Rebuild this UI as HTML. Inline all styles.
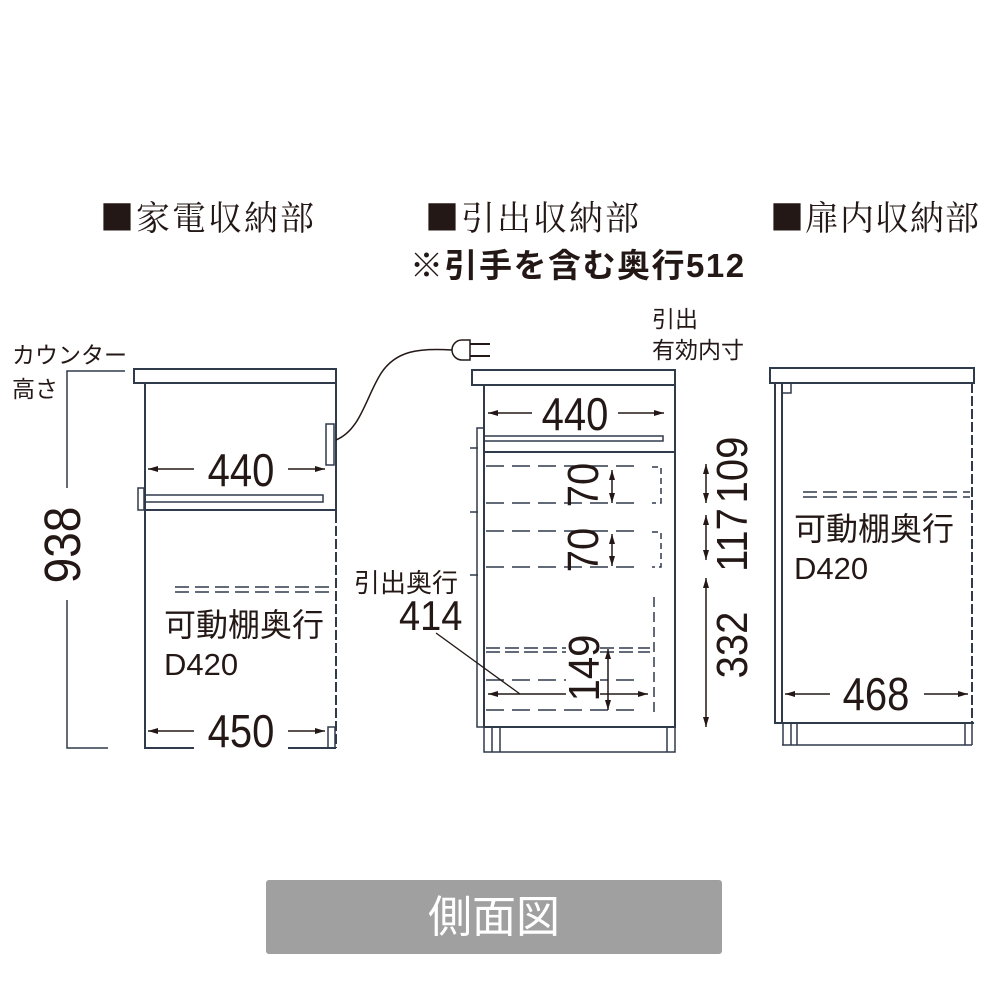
<!DOCTYPE html>
<html><head><meta charset="utf-8"><style>
html,body{margin:0;padding:0;background:#fff;}
svg{display:block}
text{font-family:"Liberation Sans","Noto Sans CJK JP",sans-serif;fill:#231815}
.s{font-family:"Noto Serif CJK SC","Liberation Serif",serif}
</style></head><body>
<svg width="1000" height="1000" viewBox="0 0 1000 1000" xmlns="http://www.w3.org/2000/svg">
<defs>
<marker id="a" viewBox="0 0 10 6" refX="10" refY="3" markerWidth="10" markerHeight="6" orient="auto-start-reverse" markerUnits="userSpaceOnUse"><path d="M0,0L10,3L0,6z" fill="#231815"/></marker>
</defs>
<text x="100" y="230" font-size="34" letter-spacing="2" class="s">■家電収納部</text>
<text x="425" y="230" font-size="34" letter-spacing="2" class="s">■引出収納部</text>
<text x="770" y="230" font-size="34" letter-spacing="1" class="s">■扉内収納部</text>
<text x="410" y="277" font-size="33" font-weight="bold" letter-spacing="1.5">※引手を含む奥行512</text>

<!-- LEFT cabinet -->
<g fill="none" stroke="#2f3a4a" stroke-width="2">
<rect x="134" y="369" width="202" height="14"/>
<path d="M145,383V748H336M336,383V513"/>
<path d="M336,513V748" stroke-dasharray="10,3"/>
<rect x="145" y="495" width="178" height="7" stroke-width="1.5"/>
<path d="M145,510H336"/>
<rect x="138" y="488" width="6" height="22" stroke-width="1.5"/>
<rect x="326" y="424" width="8" height="41" stroke-width="1.5"/>
<rect x="328" y="727" width="7" height="21" stroke-width="1.5"/>
<path d="M175,587H333M175,592H333" stroke-dasharray="14,6" stroke-width="1.5"/>
<path d="M125,371H67V488M67,600V748H108" stroke-width="1.5"/>
<path d="M336,440C360,430 365,400 380,375C395,350 420,348 452,350" stroke="#231815" stroke-width="1.5"/>
<path d="M462,340H470V360H462A10,10 0 0 1 462,340Z" stroke="#231815" stroke-width="1.5"/>
<path d="M470,344H490M470,356H490" stroke="#231815" stroke-width="2"/>
</g>
<path d="M148,469H325" stroke="#231815" stroke-width="1.5" marker-start="url(#a)" marker-end="url(#a)"/>
<rect x="194" y="448" width="94" height="40" fill="#fff"/>
<path d="M148,731H325" stroke="#231815" stroke-width="1.5" marker-start="url(#a)" marker-end="url(#a)"/>
<rect x="194" y="708" width="94" height="42" fill="#fff"/>
<text transform="translate(241,486) scale(1,1.15)" font-size="40" text-anchor="middle">440</text>
<text transform="translate(241,747) scale(1,1.15)" font-size="40" text-anchor="middle">450</text>
<text transform="translate(80,545) rotate(-90) scale(1,1.1)" font-size="46" text-anchor="middle">938</text>
<text x="12" y="363" font-size="23">カウンター</text>
<text x="12" y="397" font-size="23">高さ</text>
<text x="164" y="636" font-size="32">可動棚奥行</text>
<text x="164" y="675" font-size="31">D420</text>

<!-- MIDDLE cabinet -->
<g fill="none" stroke="#2f3a4a" stroke-width="2">
<rect x="472" y="370" width="203" height="15"/>
<path d="M484,385V727H675V385"/>
<rect x="484" y="727" width="191" height="25" stroke-width="1.5"/>
<path d="M492,727V752M500,727V752M667,727V752" stroke-width="1.5"/>
<rect x="477" y="428" width="7" height="299" stroke-width="1.5"/>
<rect x="484" y="436" width="179" height="5" stroke-width="1.5"/>
<path d="M484,452H675"/>
<path d="M470,448h8M470,512h8M470,575h8" stroke-width="1.5"/>
<g stroke-dasharray="18,8" stroke-width="1.5">
<path d="M486,466H640M486,503H640M486,531H640M486,567H640M486,680H640M486,710H640"/>
<path d="M486,648H650M486,652H650" stroke-dasharray="14,5"/>
<path d="M654,597V712" stroke-dasharray="10,5"/>
</g>
<path d="M652,467H661V503H652M652,532H661V567H652" stroke-dasharray="6,4" stroke-width="1.5"/>
</g>
<g stroke="#231815" stroke-width="1.5" marker-start="url(#a)" marker-end="url(#a)">
<path d="M488,413H664"/>
<path d="M612,470V503"/><path d="M612,534V566"/>
<path d="M608,649V710"/>
<path d="M488,694H648"/>
<path d="M706,464V503"/><path d="M706,515V560"/><path d="M706,578V727"/>
</g>
<rect x="532" y="393" width="86" height="40" fill="#fff"/>
<text transform="translate(575,430) scale(1,1.15)" font-size="40" text-anchor="middle">440</text>
<text transform="translate(598,485) rotate(-90) scale(1,1.1)" font-size="40" text-anchor="middle">70</text>
<text transform="translate(598,550) rotate(-90) scale(1,1.1)" font-size="40" text-anchor="middle">70</text>
<rect x="566" y="634" width="34" height="68" fill="#fff"/>
<text transform="translate(599,668) rotate(-90) scale(1,1.1)" font-size="40" text-anchor="middle">149</text>
<text transform="translate(747,470) rotate(-90) scale(1,1.1)" font-size="40" text-anchor="middle">109</text>
<text transform="translate(747,540) rotate(-90) scale(1,1.1)" font-size="40" text-anchor="middle">117</text>
<text transform="translate(747,645) rotate(-90) scale(1,1.1)" font-size="40" text-anchor="middle">332</text>
<path d="M436,633L520,694" stroke="#231815" stroke-width="1.3"/>
<text x="354" y="592" font-size="26">引出奥行</text>
<text transform="translate(399,630) scale(1,1.1)" font-size="38">414</text>
<text x="652" y="327" font-size="23">引出</text>
<text x="652" y="358" font-size="23">有効内寸</text>

<!-- RIGHT cabinet -->
<g fill="none" stroke="#2f3a4a" stroke-width="2">
<rect x="770" y="368" width="204" height="15"/>
<path d="M775,383V723H782M782,383V723M772,383h10"/>
<path d="M972,383V723" stroke-dasharray="10,3"/>
<path d="M782,723H974"/>
<rect x="782" y="383" width="9" height="10" stroke-width="1.5"/>
<path d="M782,745H972M783,723V745M791,723V745M797,723V745M965,723V745M972,723V745" stroke-width="1.5"/>
<path d="M803,492H970M803,497H970" stroke-dasharray="14,6" stroke-width="1.5"/>
</g>
<path d="M785,694H968" stroke="#231815" stroke-width="1.5" marker-start="url(#a)" marker-end="url(#a)"/>
<rect x="830" y="672" width="94" height="42" fill="#fff"/>
<text transform="translate(876,710) scale(1,1.15)" font-size="40" text-anchor="middle">468</text>
<text x="794" y="540" font-size="32">可動棚奥行</text>
<text x="794" y="579" font-size="31">D420</text>

<!-- footer -->
<rect x="266" y="880" width="456" height="74" rx="3" fill="#a0a0a0"/>
<text x="494" y="932" font-size="44" text-anchor="middle" style="fill:#fff">側面図</text>
</svg>
</body></html>
